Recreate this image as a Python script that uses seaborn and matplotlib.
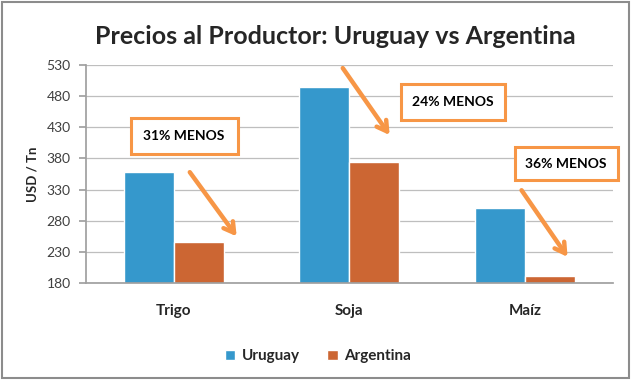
import matplotlib
matplotlib.use("Agg")
import matplotlib.pyplot as plt
import seaborn as sns
import pandas as pd
from matplotlib.patches import Rectangle

categories = ["Trigo", "Soja", "Maíz"]
uruguay = [358, 495, 300]
argentina = [246, 375, 191]
series_names = ["Uruguay", "Argentina"]
y_ticks = [180, 230, 280, 330, 380, 430, 480, 530]
notes = ["31% MENOS", "24% MENOS", "36% MENOS"]

df = pd.DataFrame({
    "cat": categories * 2,
    "val": uruguay + argentina,
    "serie": [series_names[0]] * 3 + [series_names[1]] * 3,
})

sns.set_theme(style="white")
plt.rcParams["font.family"] = ["Lato", "DejaVu Sans"]

fig = plt.figure(figsize=(6.31, 3.80), dpi=100)
ax = fig.add_axes([0.136, 0.255, 0.835, 0.574])

blue = "#3598CC"
orange = "#CC6633"
sns.barplot(data=df, x="cat", y="val", hue="serie", order=categories,
            hue_order=series_names, palette=[blue, orange], width=0.57,
            saturation=1, ax=ax, legend=True)

ax.set_ylim(180, 530)
ax.set_yticks(y_ticks)
ax.set_xlim(-0.5, 2.5)
ax.yaxis.grid(True, color="#BEBEBE", lw=0.9)
ax.set_axisbelow(True)
for s in ["top", "right"]:
    ax.spines[s].set_visible(False)
ax.spines["left"].set_color("#A0A0A0")
ax.spines["bottom"].set_color("#A0A0A0")
ax.tick_params(axis="y", which="both", left=True, length=5, color="#A0A0A0",
               labelsize=10, labelcolor="#404040", pad=6)
ax.tick_params(axis="x", bottom=False, labelsize=11, pad=9)
for lab in ax.get_xticklabels():
    lab.set_fontweight("bold")
ax.set_xlabel("")
ax.set_ylabel("USD / Tn", fontsize=9.5, fontweight="bold", labelpad=6)

leg = ax.legend(loc="upper center", bbox_to_anchor=(0.44, -0.24), ncol=2,
                frameon=False, handlelength=0.7, handleheight=0.7,
                handletextpad=0.4, columnspacing=1.8,
                prop={"weight": "bold", "size": 11})

fig.suptitle("Precios al Productor: Uruguay vs Argentina", fontsize=18,
             fontweight="bold", x=0.531, y=0.935)

ann = "#F79646"
boxes = [(-0.245, 387, 0.609, 58), (1.293, 441.6, 0.592, 57.8), (1.942, 345, 0.586, 53)]
arrows = [((0.092, 358), (0.359, 255)), ((0.963, 525), (1.230, 417.5)),
          ((1.981, 329), (2.243, 222))]
for (bx, by, bw, bh), txt, (p0, p1) in zip(boxes, notes, arrows):
    ax.add_patch(Rectangle((bx, by), bw, bh, facecolor="white", edgecolor=ann,
                           lw=2.2, clip_on=False, zorder=5))
    ax.text(bx + bw / 2, by + bh / 2, txt, ha="center", va="center",
            fontsize=10, fontweight="bold", color="black", zorder=6)
    ax.annotate("", xy=p1, xytext=p0,
                arrowprops=dict(arrowstyle="->,head_length=0.6,head_width=0.35",
                                color=ann, lw=3.2, shrinkA=0, shrinkB=0),
                annotation_clip=False, zorder=6)

fig.patches.append(Rectangle((0.003, 0.004), 0.994, 0.992, transform=fig.transFigure,
                             fill=False, edgecolor="#8C8C8C", lw=1.5))

fig.savefig("out.png", dpi=100)
